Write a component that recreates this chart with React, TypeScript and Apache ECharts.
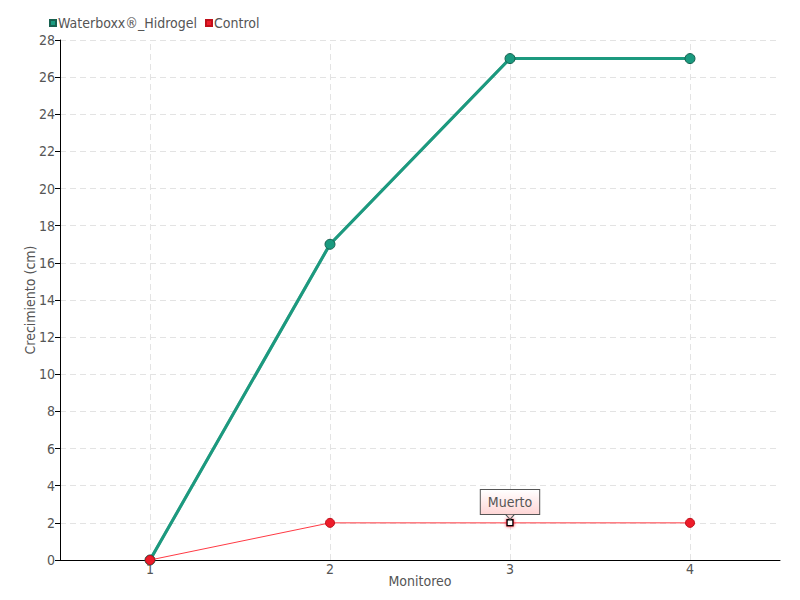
import React, { useEffect, useRef } from "react";
import * as echarts from "echarts";

const categories = ["1", "2", "3", "4"];
const waterboxx = [0, 17, 27, 27];
const control = [0, 2, 2, 2];
const seriesNames = ["Waterboxx®_Hidrogel", "Control"];
const deadLabel = "Muerto";
const deadIndex = 2;

const FONT = "DejaVu Sans Condensed";
const TXT = "#555";

export default function App() {
  const ref = useRef<HTMLDivElement>(null);
  useEffect(() => {
    if (!ref.current) return;
    const chart = echarts.init(ref.current, undefined, { renderer: "svg" });
    const grey = { color: "#e3e3e3", type: [6, 4] as number[], width: 1 };
    chart.setOption({
      animation: false,
      textStyle: { fontFamily: FONT, color: TXT },
      legend: {
        left: 44,
        top: 11,
        itemWidth: 6,
        itemHeight: 6,
        itemGap: 8,
        icon: "rect",
        textStyle: { fontFamily: FONT, fontSize: 14, color: TXT, padding: [0, 0, 0, -3] },
        data: seriesNames,
      },
      grid: { left: 60, right: 20, top: 40, bottom: 40 },
      xAxis: {
        type: "category",
        data: categories,
        boundaryGap: true,
        name: "Monitoreo",
        nameLocation: "middle",
        nameGap: 14,
        nameMoveOverlap: false,
        nameTextStyle: { fontFamily: FONT, fontSize: 14, color: TXT },
        axisLine: { lineStyle: { color: "#000", width: 1 } },
        axisTick: { alignWithLabel: true, length: 5, lineStyle: { color: "#000" } },
        axisLabel: { fontFamily: FONT, fontSize: 14, color: TXT, margin: 2 },
        splitLine: { show: false },
      },
      yAxis: {
        type: "value",
        min: 0,
        max: 28,
        interval: 2,
        name: "Crecimiento (cm)",
        nameLocation: "middle",
        nameGap: 23,
        nameMoveOverlap: false,
        nameTextStyle: { fontFamily: FONT, fontSize: 14, color: TXT },
        axisLine: { show: true, lineStyle: { color: "#000", width: 1 } },
        axisTick: { show: true, length: 5, lineStyle: { color: "#000" } },
        axisLabel: { fontFamily: FONT, fontSize: 14, color: TXT, margin: 5 },
        splitLine: { lineStyle: grey },
      },
      series: [
        {
          name: seriesNames[0],
          type: "line",
          data: waterboxx,
          color: "#1a9a7f",
          z: 2,
          symbol: "circle",
          symbolSize: 10,
          lineStyle: { width: 3, color: "#1a9a7f", shadowColor: "rgba(0,60,40,0.5)", shadowBlur: 1 },
          itemStyle: { color: "#1a9a7f", borderColor: "#17604f", borderWidth: 1 },
          markLine: {
            silent: true,
            symbol: "none",
            label: { show: false },
            lineStyle: grey,
            z: 0,
            data: categories.map((c) => ({ xAxis: c })),
          },
        },
        {
          name: seriesNames[1],
          type: "line",
          data: control.map((v, i) =>
            i === deadIndex
              ? {
                  value: v,
                  symbol: "rect",
                  symbolSize: 6,
                  itemStyle: { color: "#fff", borderColor: "#000", borderWidth: 1.5, shadowColor: "#ff2030", shadowBlur: 3 },
                  label: {
                    show: true,
                    position: "top",
                    distance: 5,
                    formatter: deadLabel,
                    fontFamily: FONT,
                    fontSize: 14,
                    color: TXT,
                    padding: [5, 7, 5, 7],
                    borderColor: "#555",
                    borderWidth: 1,
                    backgroundColor: {
                      type: "linear",
                      x: 0,
                      y: 0,
                      x2: 0,
                      y2: 1,
                      colorStops: [
                        { offset: 0, color: "#ffffff" },
                        { offset: 1, color: "#ffd6d6" },
                      ],
                    },
                  },
                }
              : v
          ),
          color: "#ee1c2a",
          z: 3,
          symbol: "circle",
          symbolSize: 9,
          lineStyle: { width: 1, color: "#ff3a44" },
          itemStyle: { color: "#ee1c2a", borderColor: "#c0101a", borderWidth: 1 },
          markPoint: {
            silent: true,
            symbol: "triangle",
            symbolSize: [9, 5],
            symbolRotate: 180,
            symbolOffset: [0, -6],
            z: 10,
            itemStyle: { color: "#ffd9d9", borderColor: "#555", borderWidth: 1 },
            label: { show: false },
            data: [{ coord: [categories[deadIndex], control[deadIndex]] }],
          },
        },
      ],
    });
    return () => chart.dispose();
  }, []);
  return <div ref={ref} style={{ width: 800, height: 600, position: "absolute", left: 0, top: 0 }} />;
}
